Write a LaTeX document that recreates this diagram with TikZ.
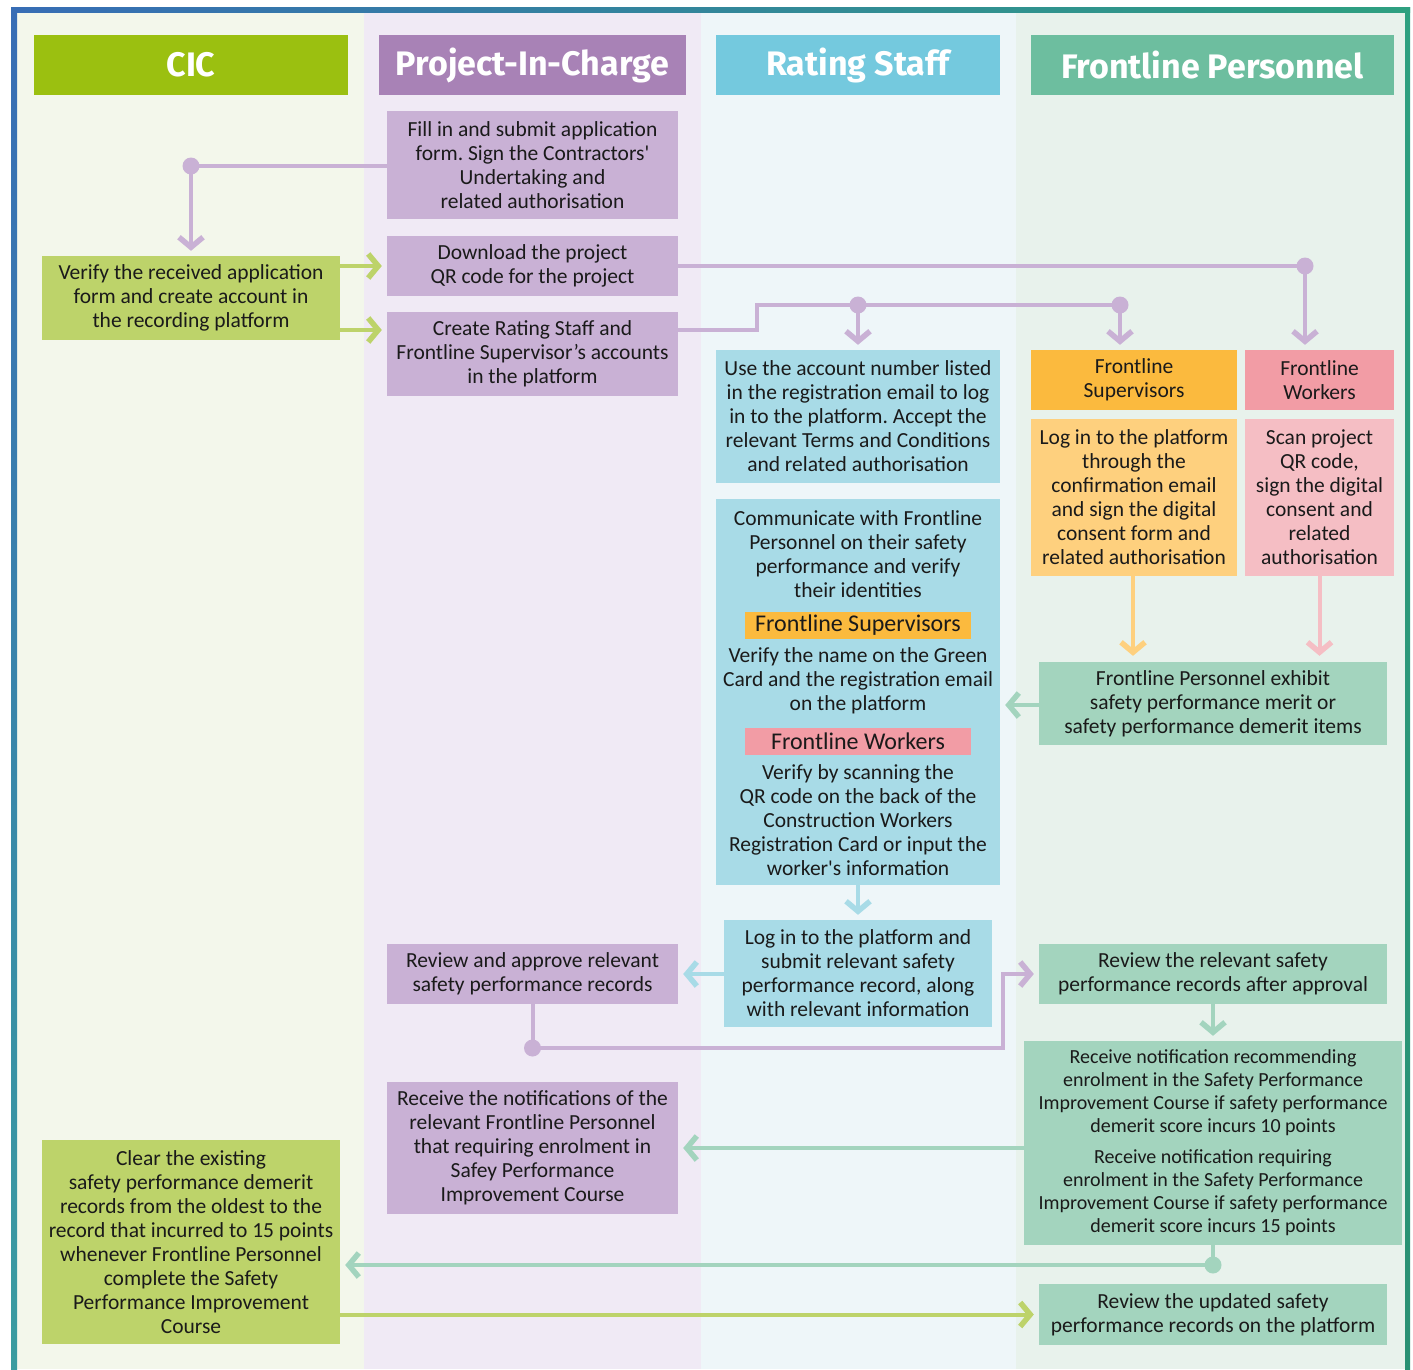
\documentclass[tikz,border=0pt]{standalone}
\usepackage{fontspec}
\setmainfont{Carlito}
\newfontfamily\titlefont{Fira Sans}
\usetikzlibrary{arrows.meta}
\frenchspacing
\definecolor{cicHdr}{HTML}{9BC010}
\definecolor{picHdr}{HTML}{A882B6}
\definecolor{rateHdr}{HTML}{74C9DE}
\definecolor{fpHdr}{HTML}{6DBE9F}
\definecolor{cicBox}{HTML}{BDD36A}
\definecolor{picBox}{HTML}{C9B1D5}
\definecolor{rateBox}{HTML}{A8DBE7}
\definecolor{fpBox}{HTML}{A3D4BE}
\definecolor{orangeH}{HTML}{FBBA3E}
\definecolor{orangeL}{HTML}{FED07E}
\definecolor{pinkH}{HTML}{F29CA5}
\definecolor{pinkL}{HTML}{F5BEC4}
\definecolor{laneA}{HTML}{F3F7EB}
\definecolor{laneB}{HTML}{F0EAF5}
\definecolor{laneC}{HTML}{EEF6F9}
\definecolor{laneD}{HTML}{E8F2EC}
\definecolor{frameBlue}{HTML}{376DB5}
\definecolor{frameTeal}{HTML}{3A9CA0}
\definecolor{frameGreen}{HTML}{2EA080}
\definecolor{txt}{HTML}{1A1A1A}
\tikzset{
  box/.style={rectangle, inner sep=0pt, align=center, text=txt,
    font=\fontsize{21.5}{24}\selectfont},
  hdr/.style={rectangle, inner sep=0pt, align=center, text=white,
    minimum height=60pt, font=\titlefont\bfseries\fontsize{34}{40}\selectfont},
  conn/.style={line width=4pt, shorten >=5pt,
    -{Straight Barb[length=10pt,width=24pt,line width=5.5pt]}},
  plain/.style={line width=4pt},
  dot/.style={circle, inner sep=0pt, minimum size=17pt},
}
\begin{document}
\begin{tikzpicture}[x=1pt,y=-1pt]
\useasboundingbox (0,0) rectangle (1413,1369);
\fill[white] (0,0) rectangle (1413,1369);
% lanes
\fill[laneA] (17,12) rectangle (364,1369);
\fill[laneB] (364,12) rectangle (701,1369);
\fill[laneC] (701,12) rectangle (1016,1369);
\fill[laneD] (1016,12) rectangle (1405,1369);
% frame
\shade[top color=frameBlue, bottom color=frameTeal] (11,7) rectangle (17,1369);
\shade[left color=frameBlue, right color=frameGreen] (11,7) rectangle (1410,12);
\shade[top color=frameGreen, bottom color=frameGreen!90!black] (1405,7) rectangle (1410,1369);

% headers
\node[hdr, fill=cicHdr, minimum width=314pt] (hcic) at (191,65) {CIC};
\node[hdr, fill=picHdr, minimum width=307pt] (hpic) at (532.5,65) {Project-In-Charge};
\node[hdr, fill=rateHdr, minimum width=284pt] (hrate) at (858,65) {Rating Staff};
\node[hdr, fill=fpHdr, minimum width=363pt] (hfp) at (1212.5,65) {Frontline Personnel};

% PIC lane
\node[box, fill=picBox, minimum width=291pt, minimum height=108pt] (fillin) at (532.5,165)
  {Fill in and submit application\\form. Sign the Contractors\textquotesingle\\Undertaking and\\related authorisation};
\node[box, fill=picBox, minimum width=291pt, minimum height=60pt] (download) at (532.5,266)
  {Download the project\\QR code for the project};
\node[box, fill=picBox, minimum width=291pt, minimum height=84pt] (create) at (532.5,354)
  {Create Rating Staff and\\Frontline Supervisor’s accounts\\in the platform};
\node[box, fill=picBox, minimum width=291pt, minimum height=60pt] (approve) at (532.5,974)
  {Review and approve relevant\\safety performance records};
\node[box, fill=picBox, minimum width=291pt, minimum height=132pt] (notif) at (532.5,1148)
  {Receive the notifications of the\\relevant Frontline Personnel\\that requiring enrolment in\\Safey Performance\\Improvement Course};

% CIC lane
\node[box, fill=cicBox, minimum width=298pt, minimum height=84pt] (verify) at (191,298)
  {Verify the received application\\form and create account in\\the recording platform};
\node[box, fill=cicBox, minimum width=298pt, minimum height=204pt] (clear) at (191,1242)
  {Clear the existing\\safety performance demerit\\records from the oldest to the\\record that incurred to 15 points\\whenever Frontline Personnel\\complete the Safety\\Performance Improvement\\Course};

% Rating lane
\node[box, fill=rateBox, minimum width=284pt, minimum height=133pt] (useacc) at (858,416.5)
  {Use the account number listed\\in the registration email to log\\in to the platform. Accept the\\relevant Terms and Conditions\\and related authorisation};
\node[box, fill=rateBox, minimum width=284pt, minimum height=386pt] (comm) at (858,692) {};
\node[box] (commA) at (858,554)
  {Communicate with Frontline\\Personnel on their safety\\performance and verify\\their identities};
\node[box, fill=orangeH, minimum width=226pt, minimum height=27pt, font=\fontsize{24}{26}\selectfont] (commFS) at (858,625.5)
  {Frontline Supervisors};
\node[box] (commB) at (858,681)
  {Verify the name on the Green\\Card and the registration email\\on the platform};
\node[box, fill=pinkH, minimum width=226pt, minimum height=27pt, font=\fontsize{24}{26}\selectfont] (commFW) at (858,741.5)
  {Frontline Workers};
\node[box] (commC) at (858,820)
  {Verify by scanning the\\QR code on the back of the\\Construction Workers\\Registration Card or input the\\worker\textquotesingle s information};
\node[box, fill=rateBox, minimum width=268pt, minimum height=107pt] (login) at (858,973.5)
  {Log in to the platform and\\submit relevant safety\\performance record, along\\with relevant information};

% Frontline lane
\node[box, fill=orangeH, minimum width=206pt, minimum height=60pt] (fsh) at (1134,380)
  {Frontline\\Supervisors};
\node[box, fill=pinkH, minimum width=149pt, minimum height=60pt] (fwh) at (1319.5,380)
  {Frontline\\Workers};
\node[box, fill=orangeL, minimum width=206pt, minimum height=157pt] (fsbox) at (1134,497.5)
  {Log in to the platform\\through the\\confirmation email\\and sign the digital\\consent form and\\related authorisation};
\node[box, fill=pinkL, minimum width=149pt, minimum height=157pt] (fwbox) at (1319.5,497.5)
  {Scan project\\QR code,\\sign the digital\\consent and\\related\\authorisation};
\node[box, fill=fpBox, minimum width=348pt, minimum height=83pt] (exhibit) at (1213,703.5)
  {Frontline Personnel exhibit\\safety performance merit or\\safety performance demerit items};
\node[box, fill=fpBox, minimum width=348pt, minimum height=60pt] (reviewrel) at (1213,974)
  {Review the relevant safety\\performance records after approval};
\node[box, fill=fpBox, minimum width=378pt, minimum height=204pt, font=\fontsize{20}{23}\selectfont] (recv) at (1213,1143)
  {Receive notification recommending\\enrolment in the Safety Performance\\Improvement Course if safety performance\\demerit score incurs 10 points\\[8pt]Receive notification requiring\\enrolment in the Safety Performance\\Improvement Course if safety performance\\demerit score incurs 15 points};
\node[box, fill=fpBox, minimum width=348pt, minimum height=61pt] (reviewupd) at (1213,1314.5)
  {Review the updated safety\\performance records on the platform};

% connectors
\coordinate (d1) at (191,166);
\draw[plain, picBox] (fillin.west |- d1) -- (d1);
\draw[conn, picBox] (d1) -- (verify.north);
\node[dot, fill=picBox] at (d1) {};

\draw[conn, cicBox] (verify.east |- download.west) -- (download.west);
\coordinate (c2) at ([yshift=24pt]create.west);
\draw[conn, cicBox] (verify.east |- c2) -- (c2);

\coordinate (d2) at (1305,266);
\draw[plain, picBox] (download.east) -- (d2);
\draw[conn, picBox] (d2) -- (d2 |- fwh.north);
\node[dot, fill=picBox] at (d2) {};

\coordinate (k1) at (757,305);
\coordinate (d3) at (858,305);
\coordinate (d4) at (1120,305);
\draw[plain, picBox] ([yshift=24pt]create.east) -| (k1) -- (d4);
\draw[conn, picBox] (d3) -- (useacc.north);
\draw[conn, picBox] (d4) -- (d4 |- fsh.north);
\node[dot, fill=picBox] at (d3) {};
\node[dot, fill=picBox] at (d4) {};

\draw[conn, orangeL, shorten >=6pt] ([xshift=-1pt]fsbox.south) -- ([xshift=-1pt]fsbox.south |- exhibit.north);
\draw[conn, pinkL, shorten >=6pt] (fwbox.south) -- (fwbox.south |- exhibit.north);
\draw[conn, fpBox] ([yshift=-1.5pt]exhibit.west) -- ([yshift=-1.5pt]exhibit.west -| comm.east);
\draw[conn, rateBox] (comm.south) -- (login.north);
\draw[conn, rateBox] (login.west |- approve.east) -- (approve.east);

\coordinate (d5) at (532.5,1048);
\coordinate (k2) at (1003,1048);
\draw[plain, picBox] (approve.south) -- (d5);
\draw[conn, picBox] (d5) -- (k2) -- (k2 |- reviewrel.west) -- (reviewrel.west);
\node[dot, fill=picBox] at (d5) {};

\draw[conn, fpBox] (reviewrel.south) -- (recv.north);
\draw[conn, fpBox] (recv.west |- notif.east) -- (notif.east);

\coordinate (d6) at (1213,1265);
\draw[plain, fpBox] (recv.south) -- (d6);
\draw[conn, fpBox] (d6) -- (d6 -| clear.east);
\node[dot, fill=fpBox] at (d6) {};

\draw[conn, cicBox] (clear.east |- reviewupd.west) -- (reviewupd.west);
\end{tikzpicture}
\end{document}
